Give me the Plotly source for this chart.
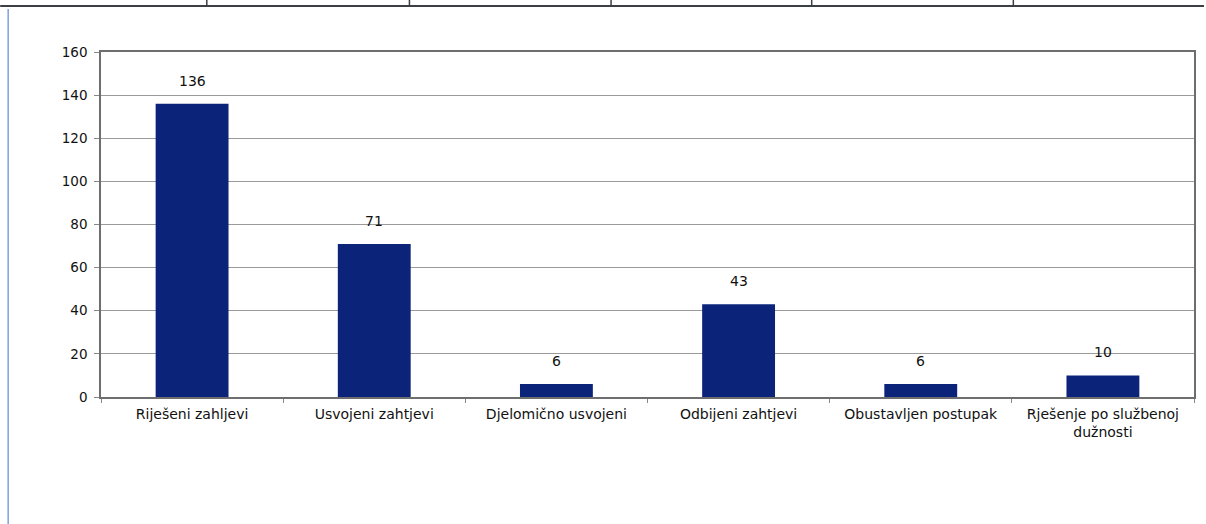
import plotly.graph_objects as go

categories = ["Riješeni zahljevi", "Usvojeni zahtjevi", "Djelomično usvojeni",
              "Odbijeni zahtjevi", "Obustavljen postupak", "Rješenje po službenoj<br>dužnosti"]
values = [136, 71, 6, 43, 6, 10]
y_ticks = [0, 20, 40, 60, 80, 100, 120, 140, 160]

W, H = 1206, 524
L, R, T, B = 101, 10, 52, 127
pw, ph = W - L - R, H - T - B

def px(x):
    return (x - L) / pw

def py(y):
    return (H - B - y) / ph

FONT = "DejaVu Sans, Liberation Sans, Arial, sans-serif"

fig = go.Figure()
fig.add_trace(go.Bar(x=categories, y=values, marker=dict(color="#0b2479", line=dict(width=0)),
                     width=0.4, hoverinfo="x+y"))

for c, v in zip(categories, values):
    fig.add_annotation(x=c, y=v, text=str(v), showarrow=False, yanchor="bottom", yshift=13,
                       font=dict(family=FONT, size=14, color="#111"))

shapes = []
# scanned page decorations: table border at top and blue frame on left
shapes.append(dict(type="line", xref="paper", yref="paper", x0=px(0), x1=px(1206), y0=py(6), y1=py(6),
                   line=dict(color="#3a3f45", width=2)))
for xv in [207, 410, 612, 813, 1015]:
    shapes.append(dict(type="line", xref="paper", yref="paper", x0=px(xv), x1=px(xv), y0=py(0), y1=py(6),
                       line=dict(color="#3a3f45", width=1.5)))
shapes.append(dict(type="line", xref="paper", yref="paper", x0=px(8), x1=px(8), y0=py(9), y1=py(524),
                   line=dict(color="#7f9fe0", width=1.5)))
fig.update_layout(shapes=shapes)

fig.update_layout(
    width=W, height=H,
    margin=dict(l=L, r=R, t=T, b=B),
    paper_bgcolor="white", plot_bgcolor="white",
    showlegend=False,
    font=dict(family=FONT, size=13, color="#111"),
    bargap=0.6,
    xaxis=dict(showline=True, linecolor="#6e6e6e", linewidth=1.5, mirror=True,
               ticks="outside", ticklen=4, tickcolor="#888", tickson="boundaries",
               ticklabelstandoff=3,
               tickfont=dict(family=FONT, size=14, color="#111"), showgrid=False),
    yaxis=dict(range=[0, 160], tickvals=y_ticks, showline=True, linecolor="#6e6e6e", linewidth=1.5,
               mirror=True, ticks="outside", ticklen=5, tickcolor="#888",
               ticklabelstandoff=4,
               showgrid=True, gridcolor="#9a9a9a", gridwidth=1,
               tickfont=dict(family=FONT, size=13.5, color="#111"), zeroline=False),
)

fig.write_html("out.html", config={"displayModeBar": False},
               post_script="document.body.style.margin='0';")
